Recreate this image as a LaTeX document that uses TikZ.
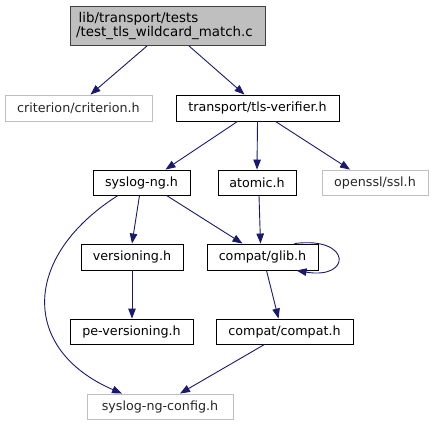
\documentclass[tikz,border=0pt]{standalone}
\usepackage{fontspec}
\setmainfont{DejaVu Sans}
\usetikzlibrary{arrows.meta}
\definecolor{edgeblue}{HTML}{191970}
\definecolor{extgray}{HTML}{BFBFBF}
\tikzset{
  box/.style={draw=black, line width=0.9pt, inner sep=0pt, anchor=center, font=\fontsize{12.7}{15}\selectfont},
  extbox/.style={box, draw=extgray, text=black!85},
  rootbox/.style={box, fill=extgray, draw=black!75},
  roottext/.style={anchor=west, font=\fontsize{13.4}{15}\selectfont, inner sep=0pt},
  dep/.style={draw=edgeblue, line width=0.9pt, -{Triangle[length=10pt,width=7.5pt]}},
}
\begin{document}
\begin{tikzpicture}[x=1pt,y=-1pt]
\useasboundingbox (0,0) rectangle (433,425);
\node[rootbox, minimum width=194.5pt, minimum height=39.5pt] (top) at (167.75,25.75) {};
\node[roottext] (l1) at (78.5,18.5) {lib/transport/tests};
\node[roottext] (l2) at (76,33) {/test\_tls\_wildcard\_match.c};
\node[extbox, minimum width=147pt, minimum height=26pt] (crit) at (78.5,108) {criterion/criterion.h};
\node[box, minimum width=163pt, minimum height=26pt] (tls) at (257.5,108) {transport/tls-verifier.h};
\node[box, minimum width=97pt, minimum height=25pt] (sys) at (141.5,182.5) {syslog-ng.h};
\node[box, minimum width=78pt, minimum height=25pt] (atom) at (257,182.5) {atomic.h};
\node[extbox, minimum width=106pt, minimum height=25pt] (ssl) at (375,182.5) {openssl/ssl.h};
\node[box, minimum width=102pt, minimum height=26pt] (ver) at (132,257) {versioning.h};
\node[box, minimum width=111pt, minimum height=26pt] (glib) at (262.5,257) {compat/glib.h};
\node[box, minimum width=123pt, minimum height=25pt] (pever) at (131.5,331.5) {pe-versioning.h};
\node[box, minimum width=137pt, minimum height=25pt] (compat) at (284.5,331.5) {compat/compat.h};
\node[extbox, minimum width=146pt, minimum height=25pt] (conf) at (160,406.5) {syslog-ng-config.h};

\draw[dep] ([xshift=-20.75pt]top.south) -- ([xshift=12pt]crit.north);
\draw[dep] ([xshift=21.25pt]top.south) -- ([xshift=-13pt]tls.north);
\draw[dep] ([xshift=-20pt]tls.south) -- ([xshift=24pt]sys.north);
\draw[dep] (tls.south) -- (atom.north);
\draw[dep] ([xshift=18pt]tls.south) -- ([xshift=-25pt]ssl.north);
\draw[dep] ([xshift=-2pt]sys.south) -- (ver.north);
\draw[dep] ([xshift=25pt]sys.south) -- ([xshift=-20pt]glib.north);
\draw[dep] ([xshift=-23.5pt]sys.south) .. controls (21,257) and (21,350) .. ([xshift=-38pt]conf.north);
\draw[dep] ([xshift=2pt]atom.south) -- ([xshift=-2pt]glib.north);
\draw[dep] (ver.south) -- ([xshift=0.5pt]pever.north);
\draw[dep] ([xshift=4pt]glib.south) -- ([xshift=-6pt]compat.north);
\draw[dep] ([xshift=-20pt]compat.south) -- ([xshift=20pt]conf.north);
\draw[dep] ([xshift=32pt]glib.north) .. controls (352,236) and (352,280) .. ([xshift=34pt]glib.south);
\end{tikzpicture}
\end{document}
